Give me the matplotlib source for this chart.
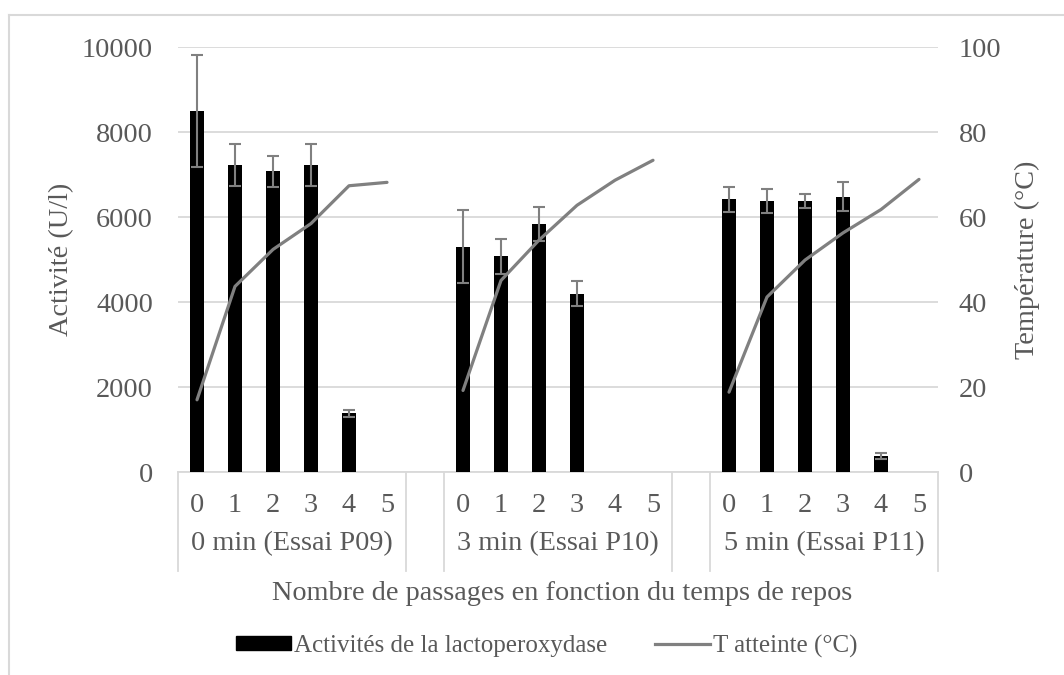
import numpy as np
import matplotlib
matplotlib.use("Agg")
import matplotlib.pyplot as plt
from matplotlib.lines import Line2D
from matplotlib.patches import Patch

# ---------------- data ----------------
passages = ["0", "1", "2", "3", "4", "5"]
groups = ["0 min (Essai P09)", "3 min (Essai P10)", "5 min (Essai P11)"]

act_P09 = [8500, 7230, 7080, 7230, 1380, np.nan]
err_P09 = [1320, 500, 360, 500, 80, np.nan]
temp_P09 = [17.0, 43.7, 52.4, 58.5, 67.4, 68.2]

act_P10 = [5300, 5080, 5850, 4200, np.nan, np.nan]
err_P10 = [860, 410, 400, 300, np.nan, np.nan]
temp_P10 = [19.2, 45.1, 54.6, 62.8, 68.7, 73.4]

act_P11 = [6420, 6385, 6385, 6480, 380, np.nan]
err_P11 = [290, 275, 160, 340, 70, np.nan]
temp_P11 = [18.8, 41.2, 49.9, 56.3, 61.8, 68.9]

activity = [act_P09, act_P10, act_P11]
errors = [err_P09, err_P10, err_P11]
temps = [temp_P09, temp_P10, temp_P11]

label_bar = "Activités de la lactoperoxydase"
label_line = "T atteinte (°C)"
ylabel_left = "Activité (U/l)"
ylabel_right = "Température (°C)"
xlabel = "Nombre de passages en fonction du temps de repos"

# ---------------- style ----------------
plt.rcParams["font.family"] = ["Liberation Serif", "DejaVu Serif"]
TXT = "#595959"
GRID = "#d9d9d9"
GRAY = "#808080"
FS = 20.3

W, H = 1064, 675
fig = plt.figure(figsize=(W / 100, H / 100), dpi=100)

ax_l, ax_r, ax_t, ax_b = 178, 938, 47.3, 472
ax = fig.add_axes([ax_l / W, 1 - ax_b / H, (ax_r - ax_l) / W, (ax_b - ax_t) / H])
ax2 = ax.twinx()

n = len(passages)
step = n + 1  # one empty category between groups
for gi in range(len(groups)):
    xs = np.arange(n) + gi * step
    ax.bar(xs, activity[gi], width=0.38, color="black", zorder=3)
    ax.errorbar(xs, activity[gi], yerr=errors[gi], fmt="none", ecolor=GRAY,
                elinewidth=1.5, capsize=4.5, capthick=1.5, zorder=4)
    ax2.plot(xs, temps[gi], color=GRAY, lw=2.3, solid_capstyle="round", zorder=5)

total = len(groups) * step - 1
ax.set_xlim(-0.5, total - 0.5)
ax.set_ylim(0, 10000)
ax.set_yticks(range(0, 10001, 2000))
ax2.set_ylim(0, 100)
ax2.set_yticks(range(0, 101, 20))

ax.yaxis.grid(True, color=GRID, lw=1.3, zorder=0)
ax.set_axisbelow(True)
for a in (ax, ax2):
    for s in a.spines.values():
        s.set_visible(False)
    a.tick_params(axis="both", length=0, labelsize=FS, labelcolor=TXT)
ax.spines["bottom"].set_visible(True)
ax.spines["bottom"].set_color(GRID)
ax.spines["bottom"].set_linewidth(1.3)
ax.tick_params(axis="y", pad=18)
ax2.tick_params(axis="y", pad=15)
ax.patch.set_visible(False)

# category labels (multi-level)
ax.set_xticks([])
px2pt = 0.72
for gi, g in enumerate(groups):
    xs = np.arange(n) + gi * step
    for x, p in zip(xs, passages):
        ax.annotate(p, xy=(x, 0), xycoords=("data", "axes fraction"),
                    xytext=(0, -34 * px2pt), textcoords="offset points",
                    ha="center", va="center", fontsize=FS, color=TXT)
    ax.annotate(g, xy=(xs.mean(), 0), xycoords=("data", "axes fraction"),
                xytext=(0, -72 * px2pt), textcoords="offset points",
                ha="center", va="center", fontsize=FS, color=TXT)

sep_depth = (571 - ax_b) / (ax_b - ax_t)
trans = ax.get_xaxis_transform()
for gi in range(len(groups)):
    for xb in (gi * step - 0.5, gi * step + n - 0.5):
        ax.plot([xb, xb], [0, -sep_depth], transform=trans, color=GRID,
                lw=1.3, clip_on=False)

fig.text(562 / W, 1 - 593 / H, xlabel, ha="center", va="center", fontsize=FS, color=TXT)
fig.text(62 / W, 1 - 259 / H, ylabel_left, rotation=90, ha="center", va="center",
         fontsize=FS, color=TXT)
fig.text(1027 / W, 1 - 260 / H, ylabel_right, rotation=90, ha="center", va="center",
         fontsize=FS, color=TXT)

# legend
handles = [Patch(facecolor="black", edgecolor="black"),
           Line2D([0], [0], color=GRAY, lw=2.3)]
leg = fig.legend(handles, [label_bar, label_line], loc="center",
                 bbox_to_anchor=(547 / W, 1 - 646 / H), ncol=2, frameon=False,
                 fontsize=18, handlelength=2.2, handleheight=0.5,
                 handletextpad=0.12, columnspacing=1.9)
for t in leg.get_texts():
    t.set_color(TXT)

# chart border (left and top visible)
fig.add_artist(Line2D([9 / W, 9 / W], [0, 1 - 15 / H], color=GRID, lw=1.5))
fig.add_artist(Line2D([9 / W, 1], [1 - 15 / H, 1 - 15 / H], color=GRID, lw=1.5))

fig.savefig("out.png", dpi=100)
